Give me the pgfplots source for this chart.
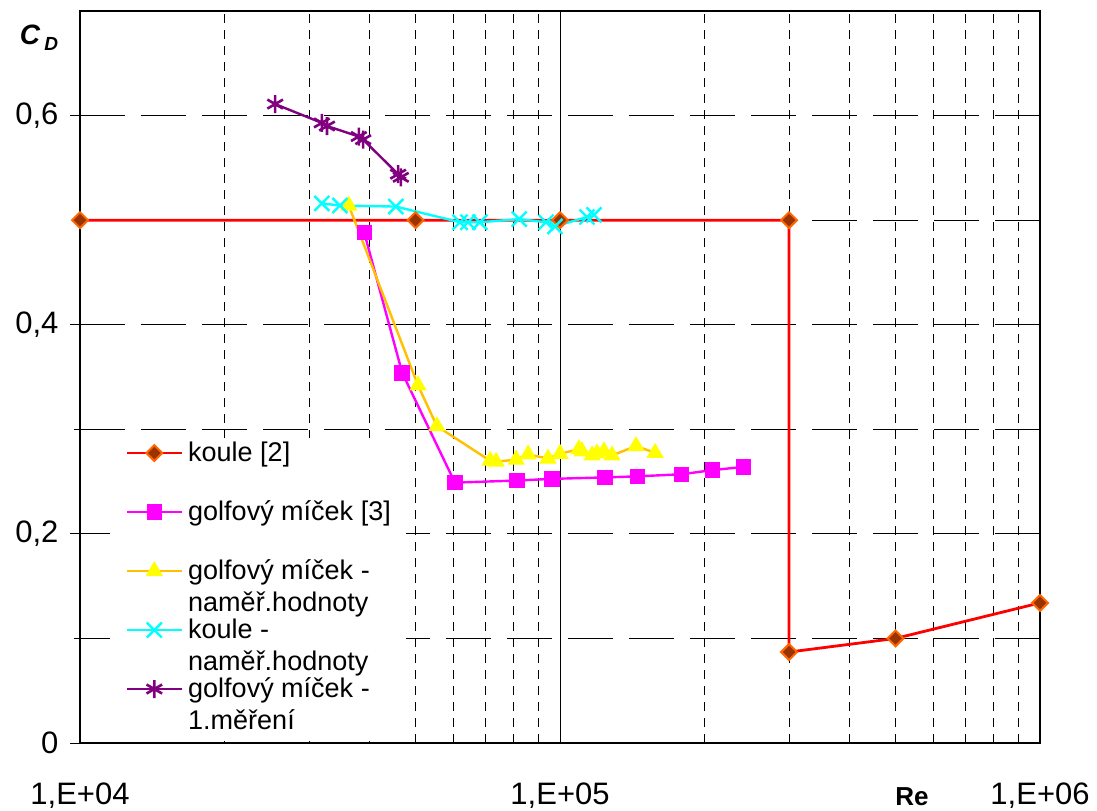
\documentclass[border=0pt]{standalone}
\usepackage{pgfplots}
\pgfplotsset{compat=1.18}
\usepackage{fontspec}
\setmainfont{Liberation Sans}
\definecolor{kred}{HTML}{FF0000}
\definecolor{korange}{HTML}{FF6600}
\definecolor{kbrown}{HTML}{993300}
\definecolor{kmag}{HTML}{FF00FF}
\definecolor{kyel}{HTML}{FFFF00}
\definecolor{kgold}{HTML}{FFC000}
\definecolor{kcyan}{HTML}{00FFFF}
\definecolor{kpurp}{HTML}{800080}
\newcommand{\two}[2]{\begin{tabular}[t]{@{}l@{}}#1\\#2\end{tabular}}
\begin{document}
\begin{tikzpicture}
\begin{axis}[
  scale only axis, width=480pt, height=366pt,
  xmode=log, log basis x=10,
  xmin=1e4, xmax=1e6, ymin=0, ymax=0.7,
  clip=false,
  xtick={1e4,1e5,1e6},
  xticklabels={{1,E+04},{1,E+05},{1,E+06}},
  minor xtick={2e4,3e4,4e4,5e4,6e4,7e4,8e4,9e4,2e5,3e5,4e5,5e5,6e5,7e5,8e5,9e5},
  ytick={0,0.2,0.4,0.6},
  yticklabels={0,{0,2},{0,4},{0,6}},
  minor ytick={0.1,0.3,0.5},
  xminorticks=false, yminorticks=false,
  xtick pos=bottom, ytick pos=left,
  xtick align=inside, ytick align=outside, major tick length=5pt,
  tick style={black, line width=0.5pt},
  xmajorgrids, xminorgrids, ymajorgrids, yminorgrids,
  major x grid style={black, line width=0.5pt, solid},
  minor x grid style={black, line width=0.5pt, dash pattern=on 4.5pt off 3.5pt},
  major y grid style={black, line width=0.5pt, dash pattern=on 22.5pt off 8pt},
  minor y grid style={black, line width=0.5pt, dash pattern=on 22.5pt off 8pt},
  axis line style={black, line width=0.75pt},
  ticklabel style={font=\fontsize{15.5}{18}\selectfont},
  yticklabel style={xshift=-2.3pt},
  xticklabel style={anchor=north, yshift=-16.3pt},
  xlabel={\textbf{Re}},
  xlabel style={at={(axis description cs:0.8667,-0.0738)}, anchor=center, font=\fontsize{13}{15}\selectfont},
  ylabel={\textbf{\textit{C}}\hspace{2pt}\raisebox{-3pt}{\fontsize{9.5}{10}\selectfont\textbf{\textit{D}}}},
  ylabel style={rotate=-90, at={(axis description cs:-0.0427,0.963)}, anchor=center, font=\fontsize{14}{15}\selectfont},
  legend cell align=left,
  legend style={at={(axis description cs:0.03125,0.0027)}, anchor=south west,
    draw=none, fill=white, inner xsep=7.5pt, inner ysep=2pt,
    row sep=0pt, column sep=2.5pt,
    font=\fontsize{13.5}{16}\selectfont,
    cells={anchor=base west},
    nodes={inner sep=0pt, text height=10pt, text depth=19.5pt}},
  legend image code/.code={\draw[mark repeat=2,mark phase=2,#1] plot coordinates {(0pt,4.3pt) (13.75pt,4.3pt) (27.5pt,4.3pt)};},
]
\addplot[kred, line width=1.4pt, mark=square*, mark size=2.8pt,
  mark options={rotate=45, fill=kbrown, draw=korange, line width=1pt, solid}]
  coordinates {(1e4,0.5) (5e4,0.5) (1e5,0.5) (3e5,0.5) (3e5,0.087) (5e5,0.1) (1e6,0.134)};
\addlegendentry{koule [2]}
\addplot[kmag, line width=1.2pt, mark=square*, mark size=3.6pt,
  mark options={fill=kmag, draw=kmag, line width=0.5pt, solid}]
  coordinates {(3.91e4,0.488) (4.69e4,0.354) (6.04e4,0.249) (8.14e4,0.251) (9.62e4,0.2526) (1.24e5,0.254) (1.45e5,0.255) (1.79e5,0.257) (2.08e5,0.261) (2.41e5,0.264)};
\addlegendentry{golfový míček [3]}
\addplot[kgold, line width=1.2pt, mark=triangle*, mark size=4.5pt,
  mark options={fill=kyel, draw=kyel, line width=0.5pt, solid}]
  coordinates {(3.63e4,0.514) (5.06e4,0.342) (5.54e4,0.303) (7.15e4,0.270) (7.36e4,0.269) (8.10e4,0.271) (8.58e4,0.276) (9.44e4,0.272) (1e5,0.2766) (1.095e5,0.281) (1.111e5,0.279) (1.166e5,0.275) (1.194e5,0.277) (1.235e5,0.279) (1.283e5,0.275) (1.44e5,0.284) (1.578e5,0.2775)};
\addlegendentry{\two{golfový míček -}{naměř.hodnoty}}
\addplot[kcyan, line width=1.2pt, mark=x, mark size=5.3pt,
  mark options={draw=kcyan, line width=1.2pt, solid}]
  coordinates {(3.19e4,0.516) (3.48e4,0.514) (4.55e4,0.513) (6.19e4,0.498) (6.43e4,0.498) (6.81e4,0.498) (8.22e4,0.501) (9.35e4,0.498) (9.76e4,0.494) (1.138e5,0.503) (1.177e5,0.505)};
\addlegendentry{\two{koule -}{naměř.hodnoty}}
\addplot[kpurp, line width=1.2pt, mark=asterisk, mark size=4.5pt,
  mark options={draw=kpurp, line width=1.3pt, solid}]
  coordinates {(2.55e4,0.611) (3.19e4,0.593) (3.27e4,0.590) (3.81e4,0.580) (3.89e4,0.577) (4.60e4,0.544) (4.66e4,0.541)};
\addlegendentry{\two{golfový míček -}{1.měření}}
\end{axis}
\pgfresetboundingbox
\path (-40pt,-33.5pt) rectangle (508.5pt,371.5pt);
\end{tikzpicture}
\end{document}
